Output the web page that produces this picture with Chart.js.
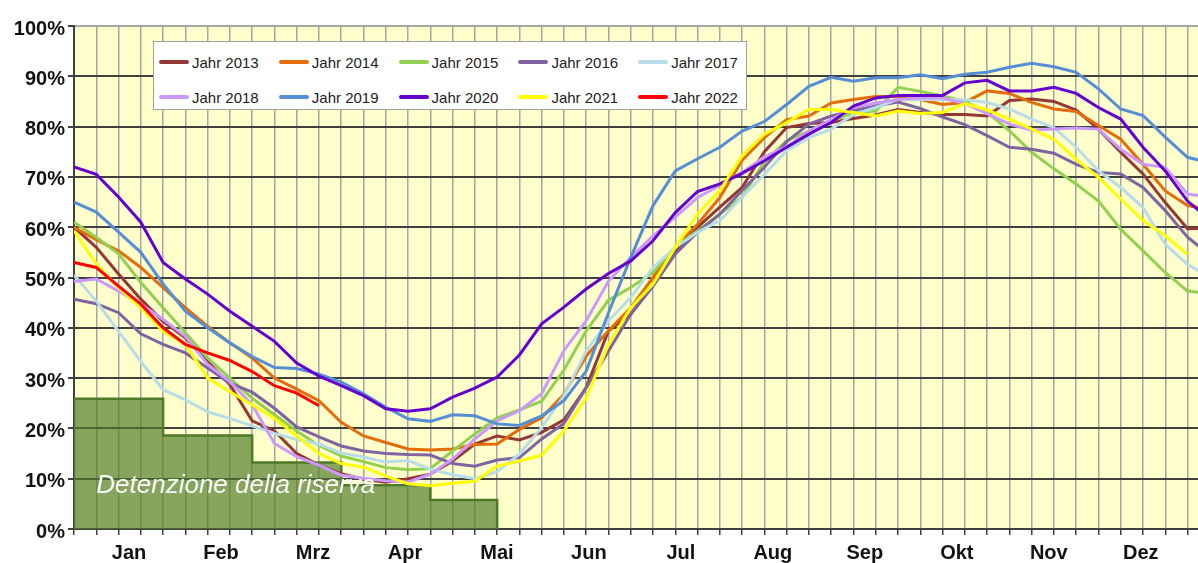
<!DOCTYPE html>
<html><head><meta charset="utf-8">
<script src="https://cdn.jsdelivr.net/npm/chart.js@4.4.1/dist/chart.umd.min.js"></script>
<style>
html,body{margin:0;padding:0;background:#fff;overflow:hidden}
#wrap{position:relative;width:1198px;height:563px}
#legend{position:absolute;left:153px;top:41px;width:594px;height:69px;background:#fff;border:1.5px solid #a0a0a0;box-sizing:border-box;font-family:"Liberation Sans",Arial,sans-serif;font-size:15px;color:#222}
.item{position:absolute;display:flex;align-items:center;white-space:nowrap;height:20px}
.sw{width:30px;height:4px;border-radius:2px;margin-right:3px}
</style></head>
<body><div id="wrap"><canvas id="c" width="1198" height="563"></canvas><div id="legend"></div></div>
<script>
// ---- data (weekly fill level in %, week index 0..51) ----
const monthLabels = ["Jan","Feb","Mrz","Apr","Mai","Jun","Jul","Aug","Sep","Okt","Nov","Dez"];
const yTickValues = [0,10,20,30,40,50,60,70,80,90,100];
const seriesNames = ["Jahr 2013","Jahr 2014","Jahr 2015","Jahr 2016","Jahr 2017","Jahr 2018","Jahr 2019","Jahr 2020","Jahr 2021","Jahr 2022"];
const seriesColors = ["#953735","#e46c0a","#92d050","#8064a2","#b7dde8","#cc99ff","#558ed5","#6600cc","#ffff00","#ff0000"];

const y2013 = [60,56,50.7,45.7,41.3,38,33.3,28.7,21.5,19.5,15,12.7,11,9.9,9.3,10,10.9,13.5,16.9,18.5,17.7,19.2,21.7,28.1,39.4,42.7,48.7,55,60,64,67.9,75,79.8,80.6,80.8,81.6,82.3,83.4,82.8,82.4,82.4,82.1,85.2,85.5,85,83.3,79.5,74.9,70.6,64.9,59.7,59.8];
const y2014 = [60,57.5,55.3,52,48,44,40.3,37,34,30,27.8,25.5,21.2,18.5,17.2,15.9,15.7,15.9,16.8,16.9,19.8,22.1,26.8,34.4,39.4,44,50,56,60.6,65.9,73.3,77.8,81.4,82.1,84.7,85.4,86,86,85.4,84.4,84.8,87.1,86.6,84.8,83.5,83,80.2,77.5,72.5,67.2,64.3,63.5];
const y2015 = [61,58,54.7,49,44,39,34,30,26,22.7,19.5,16.6,14.5,13.4,12.2,11.8,12,15.5,18.9,22.1,23.7,25.4,31.6,39.4,45.5,48,51,56,59.3,62.6,66,73,77.2,79.1,81.1,82.8,83.1,87.8,87,86.1,85,82.8,79.2,74.9,71.6,68.6,65.2,59.6,55.3,51,47.3,46.8];
const y2016 = [45.7,44.8,43,38.8,36.7,35,32,29,27.2,24,20.3,18.3,16.5,15.5,15,14.8,14.7,13,12.5,13.7,14.2,17.9,21,28.1,35.4,42.7,48.3,54.7,59,62.6,67.3,71.9,77,80.5,82.1,83.2,84.1,84.9,83.6,81.9,80.4,78.2,75.9,75.5,74.7,72.5,70.9,70.6,67.9,63.3,58,54.5];
const y2017 = [50.5,45.3,39.3,33.3,27.7,25.7,23.3,22,20.5,19,17.8,16.9,15.1,14.3,13.3,13.6,11.9,10.8,10,11.4,14.9,20.2,26.5,35.4,41.4,46,52,56,59,61.3,66,70.5,75.2,77.8,79.5,82.4,83.8,85.4,85.4,85.4,85.4,84.8,83.5,81.5,79.8,75.9,71.2,67.9,63.9,56.6,52.6,50];
const y2018 = [49.2,49.7,47.3,44.7,41.7,38.3,32.7,29.3,24.7,17,14.4,12.7,10.7,10.1,9.6,9.3,10.9,13.9,17.9,21.5,23.5,26.9,35.5,41.4,49.3,54,58.3,62,65.9,68.3,70.9,74,76,79.1,81.4,83.8,84.7,85.4,85.7,85.7,84.6,82.6,80.5,79.3,79.5,79.7,79.5,75.5,72.5,71.9,66.6,66];
const y2019 = [65,63,59,55,48.7,43.3,40,37,34.3,32.1,31.9,30.8,29.2,26.9,24.2,21.9,21.4,22.7,22.5,20.9,20.6,22.5,25.5,31.4,43,54,64.3,71.2,73.6,75.9,79.1,81,84.4,88,89.8,89,89.7,89.7,90.3,89.5,90.4,90.8,91.8,92.6,91.9,90.8,87.5,83.5,82.2,77.9,73.9,72.8];
const y2020 = [72,70.5,66,61,53,49.7,46.7,43.3,40.3,37.3,33,30.4,28.5,26.5,23.9,23.4,23.9,26.2,28,30.2,34.6,40.8,44.1,47.7,50.8,53.3,57.3,62.9,67.1,68.6,70.7,73.2,75.9,78.5,80.8,84.1,85.7,86.2,86.2,86.2,88.7,89.2,87.1,87.1,87.8,86.6,83.8,81.5,75.9,71.2,65.2,61.5];
const y2021 = [59.3,52.7,48,44,39.3,36.7,30,27.3,24.7,22,18.5,15,13,12.3,10.5,9,8.6,9.1,9.5,12.5,13.5,14.7,19.5,26.1,36.7,44,48.7,56,62.6,67.3,74.2,78.5,80.8,83.4,83.4,82.8,82.1,83.1,82.6,82.8,84.6,83.3,81.5,79.5,77.5,73.5,69.9,65.6,61.3,58.3,54.6];
const y2022 = [53,52,48.3,44.7,40,36.7,35,33.5,31.3,28.5,27,24.5];
const seriesValues = [y2013,y2014,y2015,y2016,y2017,y2018,y2019,y2020,y2021,y2022];

// reserve holding ("Detenzione della riserva"): step start weeks and levels
const reserveLabel = "Detenzione della riserva";
const reserveWeeks = [0,4,8,12,16,19];
const reserveLevels = [25.9,18.6,13.2,8.7,5.75,5.75];

// axis layout (in week units)
const xMax = 50.47;
const monthPos = [2.47,6.6,10.73,14.86,18.99,23.12,27.25,31.38,35.51,39.64,43.77,47.9];

const FONT = '"Liberation Sans", Arial, sans-serif';

const datasets = seriesValues.map((vals, k) => ({
  label: seriesNames[k],
  data: vals.map((v, i) => ({x: i, y: v})),
  borderColor: seriesColors[k],
  backgroundColor: seriesColors[k],
  borderWidth: 3,
  pointRadius: 0,
  tension: 0,
  fill: false,
  order: seriesNames.length - k
}));
const reservePts = [{x: reserveWeeks[0], y: 0}].concat(
  reserveWeeks.map((w, i) => ({x: w, y: reserveLevels[i]})),
  [{x: reserveWeeks[reserveWeeks.length - 1], y: 0}]
);
datasets.push({
  label: reserveLabel,
  data: reservePts,
  stepped: 'before',
  borderColor: '#4f7a2a',
  borderWidth: 2.5,
  backgroundColor: 'rgba(79,122,40,0.68)',
  fill: 'origin',
  pointRadius: 0,
  order: 100
});

const bgPlugin = {
  id: 'bg',
  beforeDraw(chart) {
    const {ctx, chartArea: a} = chart;
    ctx.save();
    ctx.fillStyle = '#ffffff';
    ctx.fillRect(0, 0, chart.width, chart.height);
    ctx.fillStyle = '#ffffcc';
    ctx.fillRect(a.left, a.top, a.right - a.left, a.bottom - a.top);
    ctx.restore();
  }
};
const textPlugin = {
  id: 'reserveText',
  afterDatasetsDraw(chart) {
    const {ctx, scales} = chart;
    ctx.save();
    ctx.font = 'italic 26px ' + FONT;
    ctx.fillStyle = '#fbfbfb';
    ctx.textBaseline = 'alphabetic';
    ctx.fillText(reserveLabel, scales.x.getPixelForValue(1), scales.y.getPixelForValue(7.2));
    ctx.restore();
  }
};

new Chart(document.getElementById('c'), {
  type: 'line',
  data: {datasets},
  plugins: [bgPlugin, textPlugin],
  options: {
    responsive: false,
    animation: false,
    devicePixelRatio: 1,
    layout: {padding: {top: 26, left: 0, right: 0, bottom: 0}},
    plugins: {legend: {display: false}, tooltip: {enabled: false}},
    scales: {
      x: {
        type: 'linear', position: 'bottom', min: 0, max: xMax,
        afterBuildTicks(s) { const t = []; for (let i = 0; i <= Math.floor(xMax); i++) t.push({value: i}); s.ticks = t; },
        afterFit(s) { s.height = 6; },
        grid: {color: '#a6a6a6', lineWidth: 1.5, tickLength: 6, tickColor: '#404040', tickWidth: 1.5},
        border: {display: true, color: '#404040', width: 2},
        ticks: {display: false}
      },
      xm: {
        type: 'linear', position: 'bottom', min: 0, max: xMax,
        afterBuildTicks(s) { s.ticks = monthPos.map(v => ({value: v})); },
        afterFit(s) { s.height = 28; },
        grid: {display: false, drawTicks: false},
        border: {display: false},
        ticks: {
          autoSkip: false, maxRotation: 0, padding: 6, color: '#111',
          font: {family: FONT, size: 20, weight: 'bold'},
          callback: (v, i) => monthLabels[i]
        }
      },
      y: {
        type: 'linear', position: 'left', min: 0, max: 100,
        afterBuildTicks(s) { s.ticks = yTickValues.map(v => ({value: v})); },
        afterFit(s) { s.width = 74; },
        grid: {
          color: c => (c.tick && c.tick.value === 100) ? '#a6a6a6' : '#404040',
          lineWidth: 2, tickLength: 6, tickColor: '#404040'
        },
        border: {display: true, color: '#404040', width: 2},
        ticks: {
          padding: 3, color: '#111', labelOffset: 3,
          font: {family: FONT, size: 20, weight: 'bold'},
          callback: v => v + '%'
        }
      }
    }
  }
});

// legend (HTML, built from series names/colours)
const lg = document.getElementById('legend');
seriesNames.forEach((name, k) => {
  const col = k % 5, row = Math.floor(k / 5);
  const d = document.createElement('div');
  d.className = 'item';
  d.style.left = (5 + col * 119.8) + 'px';
  d.style.top = (row === 0 ? 10 : 45) + 'px';
  const sw = document.createElement('span');
  sw.className = 'sw';
  sw.style.background = seriesColors[k];
  const tx = document.createElement('span');
  tx.textContent = name;
  d.appendChild(sw); d.appendChild(tx);
  lg.appendChild(d);
});
</script>
</body></html>
